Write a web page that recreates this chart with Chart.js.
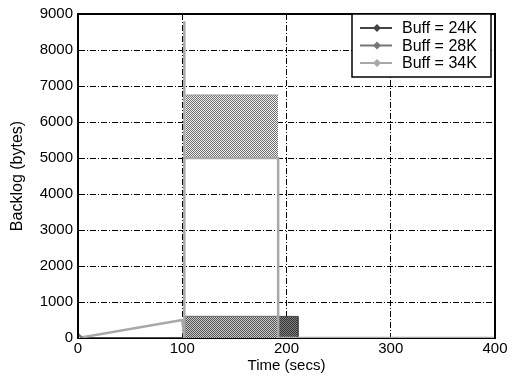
<!DOCTYPE html>
<html>
<head>
<meta charset="utf-8">
<script src="https://cdn.jsdelivr.net/npm/chart.js@4/dist/chart.umd.min.js"></script>
<style>
html,body{margin:0;padding:0;background:#fff;}
#c{display:block;}
</style>
</head>
<body>
<canvas id="c" width="513" height="379"></canvas>
<script>
// ---- data ----
const seriesLabels = ['Buff = 24K', 'Buff = 28K', 'Buff = 34K'];
// Buff = 24K : backlog oscillating 0..600 between 103 s and 211 s (drawn as envelope)
const time24 = [0, 103, 103, 211, 211, 400];
const backlog24 = [0, 0, 600, 600, 0, 0];
// Buff = 28K : backlog oscillating 0..600 between 103 s and 192 s
const time28 = [0, 103, 103, 192, 192, 400];
const backlog28 = [0, 0, 600, 600, 0, 0];
// Buff = 34K : ramp, spike, then oscillating 5000..6750 until 192 s
const time34 = [0, 100, 102, 102, 102, 192, 192, 400];
const backlog34 = [0, 500, 0, 8800, 5000, 5000, 0, 0];
const time34Band = [103, 192];
const backlog34BandTop = [6750, 6750];
const backlog34BandBase = 5000;
const xTicks = [0, 100, 200, 300, 400];
const yTicks = [0, 1000, 2000, 3000, 4000, 5000, 6000, 7000, 8000, 9000];

function checker(a, b) {
  const c = document.createElement('canvas');
  c.width = 2; c.height = 2;
  const g = c.getContext('2d');
  g.fillStyle = b; g.fillRect(0, 0, 2, 2);
  g.fillStyle = a; g.fillRect(0, 0, 1, 1); g.fillRect(1, 1, 1, 1);
  return g.createPattern(c, 'repeat');
}
const pat34 = checker('#6e6e6e', '#f0f0f0');
const pat28 = checker('#555555', '#c8c8c8');
const pat24 = checker('#333333', '#808080');

const lineColors = ['#444444', '#777777', '#a8a8a8'];
const FONT = "'Liberation Sans', Arial, sans-serif";

function pts(xs, ys) { return xs.map((x, i) => ({x: x, y: ys[i]})); }

const boxPlugin = {
  id: 'box',
  afterDraw(chart) {
    const {ctx, chartArea: a} = chart;
    ctx.save();
    ctx.strokeStyle = '#000';
    ctx.lineWidth = 2;
    ctx.beginPath();
    ctx.moveTo(a.left, a.bottom);
    ctx.lineTo(a.left, a.top);
    ctx.lineTo(a.right, a.top);
    ctx.lineTo(a.right, a.bottom);
    ctx.stroke();
    // legend box
    const lx = 352, ly = 14, lw = 139, lh = 63;
    ctx.fillStyle = '#fff';
    ctx.fillRect(lx, ly, lw, lh);
    ctx.lineWidth = 1.5;
    ctx.strokeRect(lx, ly, lw, lh);
    ctx.font = '16px ' + FONT;
    ctx.textBaseline = 'middle';
    ctx.textAlign = 'left';
    seriesLabels.forEach((lab, i) => {
      const y = 28 + i * 17.5;
      ctx.strokeStyle = lineColors[i];
      ctx.lineWidth = 2;
      ctx.beginPath();
      ctx.moveTo(360, y); ctx.lineTo(392, y); ctx.stroke();
      ctx.fillStyle = lineColors[i];
      ctx.beginPath();
      ctx.moveTo(377, y - 4); ctx.lineTo(381, y); ctx.lineTo(377, y + 4); ctx.lineTo(373, y);
      ctx.closePath(); ctx.fill();
      ctx.fillStyle = '#000';
      ctx.fillText(lab, 402, y + 1);
    });
    ctx.restore();
  }
};

const plainTick = v => String(v);

new Chart(document.getElementById('c'), {
  type: 'line',
  data: {
    datasets: [
      {
        label: seriesLabels[2],
        data: pts(time34, backlog34),
        borderColor: lineColors[2],
        borderWidth: 2.5,
        pointRadius: ctx => ctx.dataIndex === 0 ? 4 : 0,
        pointStyle: 'rectRot',
        pointBackgroundColor: '#fff',
        pointBorderColor: '#777',
        fill: false,
        order: 0
      },
      {
        label: seriesLabels[2] + ' band',
        data: pts(time34Band, backlog34BandTop),
        borderColor: '#999999',
        borderWidth: 1,
        pointRadius: 0,
        backgroundColor: pat34,
        fill: {value: backlog34BandBase},
        order: 1
      },
      {
        label: seriesLabels[1],
        data: pts(time28, backlog28),
        borderColor: lineColors[1],
        borderWidth: 1,
        pointRadius: 0,
        backgroundColor: pat28,
        fill: 'origin',
        order: 2
      },
      {
        label: seriesLabels[0],
        data: pts(time24, backlog24),
        borderColor: lineColors[0],
        borderWidth: 1,
        pointRadius: 0,
        backgroundColor: pat24,
        fill: 'origin',
        order: 3
      }
    ]
  },
  options: {
    responsive: false,
    animation: false,
    events: [],
    layout: {padding: {top: 12, right: 18, left: 0, bottom: 0}},
    plugins: {legend: {display: false}, tooltip: {enabled: false}},
    scales: {
      x: {
        type: 'linear',
        min: 0, max: 400,
        afterBuildTicks: s => { s.ticks = xTicks.map(v => ({value: v})); },
        afterFit: s => { s.height = 41; },
        ticks: {color: '#000', font: {family: FONT, size: 15}, padding: 2, maxRotation: 0, callback: plainTick},
        grid: {color: '#000', lineWidth: 1, drawTicks: false},
        border: {display: true, color: '#000', width: 2, dash: [6, 2, 1, 2]},
        title: {display: true, text: 'Time (secs)', color: '#000', font: {family: FONT, size: 15}, padding: {top: 4, bottom: 4}}
      },
      y: {
        type: 'linear',
        min: 0, max: 9000,
        afterBuildTicks: s => { s.ticks = yTicks.map(v => ({value: v})); },
        afterFit: s => { s.width = 78; },
        ticks: {color: '#000', font: {family: FONT, size: 15}, padding: 5, callback: plainTick},
        grid: {color: '#000', lineWidth: 1, drawTicks: false},
        border: {display: true, color: '#000', width: 2, dash: [6, 2, 1, 2]},
        title: {display: true, text: 'Backlog (bytes)', color: '#000', font: {family: FONT, size: 16}, padding: {top: 8, bottom: 8}}
      }
    }
  },
  plugins: [boxPlugin]
});
</script>
</body>
</html>
